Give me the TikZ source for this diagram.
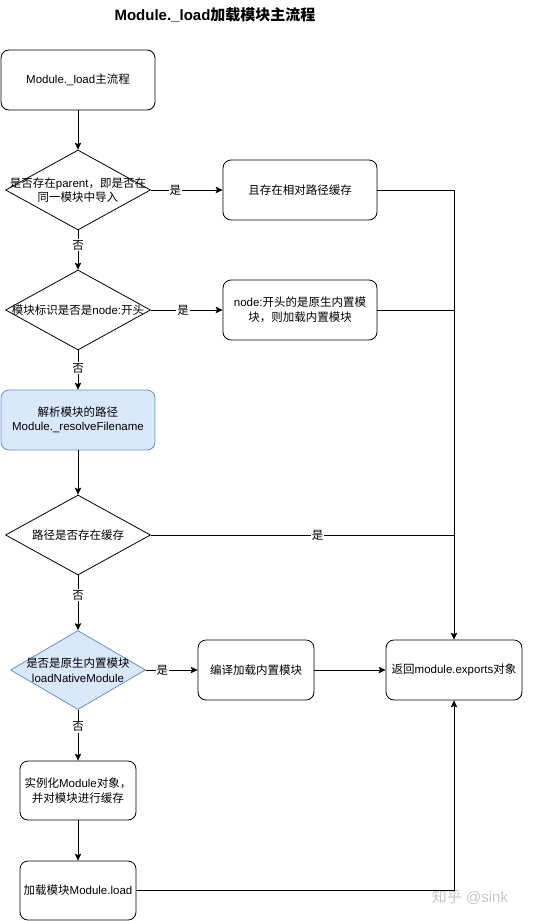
\documentclass[tikz,border=0pt]{standalone}
\usepackage{fontspec}
\setmainfont{Liberation Sans}
\newfontfamily\cjk{Noto Sans CJK SC}
\usetikzlibrary{arrows.meta, shapes.geometric}

\newcommand{\zh}[1]{{\cjk #1}}

\definecolor{stepfill}{HTML}{DAE8FC}
\definecolor{stepline}{HTML}{6C8EBF}

\tikzset{
    proc/.style={draw, line width=0.8pt, rounded corners=8pt, minimum height=60pt, inner sep=1pt, align=center, font=\fontsize{11.5}{14.5}\selectfont},
    decide/.style={draw, line width=0.8pt, diamond, inner sep=0pt, minimum width=145pt, minimum height=80pt},
    says/.style={align=center, font=\fontsize{11.5}{14.5}\selectfont},
    flow/.style={line width=0.8pt, -{Stealth[length=7pt, width=6.5pt, inset=1.5pt]}},
    wire/.style={line width=0.8pt},
    tag/.style={fill=white, inner sep=1pt, font=\fontsize{11.5}{14}\selectfont}
}

\begin{document}
\begin{tikzpicture}[x=1pt, y=-1pt]

    \useasboundingbox (0, 0) rectangle (541, 921);

    % Title
    \node [font=\fontsize{15}{18}\selectfont\bfseries] (title) at (215, 15) {Module.\_load\zh{加载模块主流程}};

    % Left column
    \node [proc, minimum width=154pt] (start) at (78, 80) {Module.\_load\zh{主流程}};

    \node [decide] (parent) at (78, 190) {};
    \node [says] (parenttxt) at (parent) {\zh{是否存在}parent\zh{，即是否在}\\\zh{同一模块中导入}};

    \node [decide] (prefix) at (78, 310) {};
    \node [says] (prefixtxt) at (prefix) {\zh{模块标识是否是}node:\zh{开头}};

    \node [proc, minimum width=154pt, fill=stepfill, draw=stepline] (resolve) at (78, 420) {\zh{解析模块的路径}\\Module.\_resolveFilename};

    \node [decide] (cached) at (78, 535) {};
    \node [says] (cachedtxt) at (cached) {\zh{路径是否存在缓存}};

    \node [decide, minimum width=135pt, minimum height=79pt, fill=stepfill, draw=stepline] (native) at (78, 670) {};
    \node [says] (nativetxt) at (native) {\zh{是否是原生内置模块}\\loadNativeModule};

    \node [proc, minimum width=116pt, minimum height=59pt] (create) at (78, 790.5) {\zh{实例化}Module\zh{对象，}\\\zh{并对模块进行缓存}};

    \node [proc, minimum width=116pt, minimum height=59pt] (load) at (78, 890.5) {\zh{加载模块}Module.load};

    % Right side
    \node [proc, minimum width=154pt] (relcache) at (300, 190) {\zh{且存在相对路径缓存}};
    \node [proc, minimum width=154pt] (builtin) at (300, 310) {node:\zh{开头的是原生内置模}\\\zh{块，则加载内置模块}};
    \node [proc, minimum width=116pt] (compile) at (256, 670) {\zh{编译加载内置模块}};
    \node [proc, minimum width=136pt] (result) at (454, 670) {\zh{返回}module.exports\zh{对象}};

    % Watermark
    \node [font=\fontsize{15}{18}\selectfont, text=black!22] (mark) at (470, 897) {\zh{知乎} @sink};

    % Connectors
    \draw [flow] (start) -- (parent);
    \draw [flow] (parent.south) -- node [tag, pos=0.38] {\zh{否}} (prefix.north);
    \draw [flow] (prefix.south) -- node [tag, pos=0.45] {\zh{否}} (resolve.north);
    \draw [flow] (resolve) -- (cached);
    \draw [flow] (cached.south) -- node [tag, pos=0.36] {\zh{否}} (native.north);
    \draw [flow] (native.south) -- node [tag, pos=0.33] {\zh{否}} (create.north);
    \draw [flow] (create) -- (load);

    \draw [flow] (parent.east) -- node [tag, pos=0.34] {\zh{是}} (relcache.west);
    \draw [flow] (prefix.east) -- node [tag, pos=0.45] {\zh{是}} (builtin.west);
    \draw [flow] (native.east) -- node [tag, pos=0.32] {\zh{是}} (compile.west);
    \draw [flow] (compile) -- (result);

    \draw [flow] (relcache.east) -| (result.north);
    \draw [wire] (builtin.east) -- (builtin.east -| result.north);
    \draw [wire] (cached.east) -- node [tag, pos=0.55] {\zh{是}} (cached.east -| result.north);
    \draw [flow] (load.east) -| (result.south);

\end{tikzpicture}
\end{document}
